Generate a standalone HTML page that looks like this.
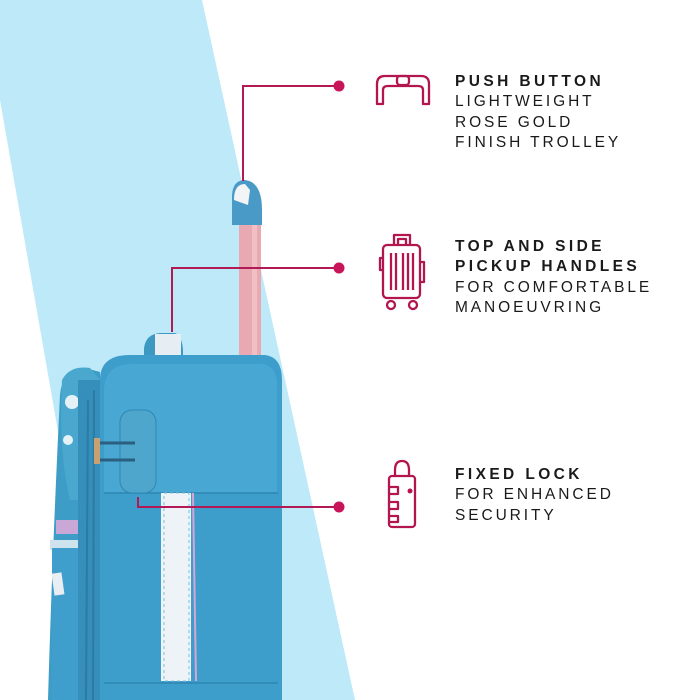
<!DOCTYPE html>
<html><head><style>
html,body{margin:0;padding:0;background:#fff;}
.t{position:absolute;left:455px;font-family:"Liberation Sans",sans-serif;font-size:15.5px;letter-spacing:2.9px;color:#1a1a1a;line-height:20.3px;}
.t b{font-weight:900;letter-spacing:3.4px;}
</style></head><body>
<div style="position:relative;width:700px;height:700px;overflow:hidden;">
<svg width="700" height="700" style="position:absolute;left:0;top:0">
<polygon points="0,0 202,0 355,700 105,700 0,100" fill="#bde9f8"/>
<path d="M60,395 Q62,370 85,368 L100,372 L100,700 L48,700 Q52,560 60,395Z" fill="#3d9dc6"/>
<path d="M62,380 Q70,365 90,368 L100,380 L100,500 L70,500 Q58,450 62,380Z" fill="#4aa8cf"/>
<g fill="#fff" opacity="0.85"><circle cx="72" cy="402" r="7"/><circle cx="68" cy="440" r="5"/><circle cx="86" cy="385" r="5"/></g>
<rect x="56" y="520" width="45" height="14" fill="#c9a8d8"/>
<rect x="50" y="540" width="52" height="10" fill="#cfe3ee"/>
<rect x="52" y="548" width="50" height="152" fill="#3f9ecb"/>
<rect x="53" y="573" width="10" height="22" fill="#e8eef2" transform="rotate(-8 58 584)"/>
<rect x="78" y="380" width="22" height="320" fill="#358fba"/>
<line x1="88" y1="400" x2="86" y2="700" stroke="#2b7ba3" stroke-width="2"/>
<line x1="94" y1="390" x2="93" y2="700" stroke="#2b7ba3" stroke-width="2"/>
<path d="M144,348 Q146,334 160,333 L175,333 Q182,336 183,350 L183,360 L144,360Z" fill="#3d98c2"/>
<rect x="155" y="334" width="26" height="22" fill="#e6eef4"/>
<rect x="239" y="222" width="22" height="140" fill="#e8a9b3"/>
<rect x="252" y="222" width="5" height="140" fill="#f0c0c6"/>
<path d="M232,225 L232,195 Q233,180 245,180 Q262,182 262,210 L262,225Z" fill="#4a9ac8"/>
<path d="M234,200 Q234,184 245,184 L250,190 L248,205Z" fill="#f2f4f6"/>
<path d="M100,380 Q100,355 130,355 L265,355 Q282,357 282,380 L282,700 L100,700Z" fill="#3d9dcb"/>
<path d="M104,388 Q106,364 132,364 L262,364 Q277,366 277,385 L277,493 L104,493Z" fill="#48a7d3"/>
<line x1="104" y1="493" x2="278" y2="493" stroke="#2f86b2" stroke-width="1.5"/>
<line x1="104" y1="683" x2="278" y2="683" stroke="#2f86b2" stroke-width="1.5"/>
<rect x="161" y="493" width="30" height="188" fill="#eef3f7"/>
<rect x="164" y="493" width="25" height="188" fill="none" stroke="#7fbcd8" stroke-width="1" stroke-dasharray="3 3"/>
<line x1="193" y1="493" x2="196" y2="681" stroke="#d6a6d6" stroke-width="2"/>
<rect x="120" y="410" width="36" height="83" rx="12" fill="#4fa6cd" stroke="#2f86b2"/>
<rect x="94" y="438" width="6" height="26" fill="#c9a070"/>
<line x1="100" y1="443" x2="135" y2="443" stroke="#2a5f80" stroke-width="3"/>
<line x1="100" y1="460" x2="135" y2="460" stroke="#2a5f80" stroke-width="3"/>
<g stroke="#b31a55" stroke-width="2" fill="none">
<polyline points="339,86 243,86 243,181"/>
<polyline points="339,268 172,268 172,332"/>
<polyline points="339,507 138,507 138,497"/>
</g>
<g fill="#c8155a"><circle cx="339" cy="86" r="5.5"/><circle cx="339" cy="268" r="5.5"/><circle cx="339" cy="507" r="5.5"/></g>
<g stroke="#b3164f" stroke-width="2.3" fill="none" stroke-linejoin="round">
<path d="M377,104 L377,84 Q377,76 385,76 L421,76 Q429,76 429,84 L429,104 L423,104 L423,90 Q423,86 418,86 L388,86 Q383,86 383,90 L383,104Z"/>
<rect x="397" y="76" width="12" height="9" rx="3"/>
<path d="M394,245 L394,235 L410,235 L410,245 M398,245 L398,239 L406,239 L406,245"/>
<rect x="383" y="245" width="37" height="53" rx="4"/>
<path d="M391,253 L391,290 M396,253 L396,290 M403,253 L403,290 M408,253 L408,290 M413,253 L413,290"/>
<path d="M383,258 L380,258 L380,270 L383,270 M420,262 L424,262 L424,282 L420,282"/>
<circle cx="391" cy="305" r="4"/><circle cx="413" cy="305" r="4"/>
<path d="M395,476 L395,470 Q395,461 402,461 Q409,461 409,470 L409,476"/>
<rect x="389" y="476" width="26" height="51" rx="3"/>
<path d="M389,487 L398,487 L398,494 L389,494 M389,502 L398,502 L398,509 L389,509 M389,516 L398,516 L398,522 L389,522"/>
</g>
<circle cx="410" cy="491" r="2.5" fill="#b3164f"/>
</svg>
<div class="t" style="top:72px"><b>PUSH BUTTON</b><br>LIGHTWEIGHT<br>ROSE GOLD<br>FINISH TROLLEY</div>
<div class="t" style="top:237px"><b>TOP AND SIDE<br>PICKUP HANDLES</b><br>FOR COMFORTABLE<br>MANOEUVRING</div>
<div class="t" style="top:465px"><b>FIXED LOCK</b><br>FOR ENHANCED<br>SECURITY</div>
</div>
</body></html>
